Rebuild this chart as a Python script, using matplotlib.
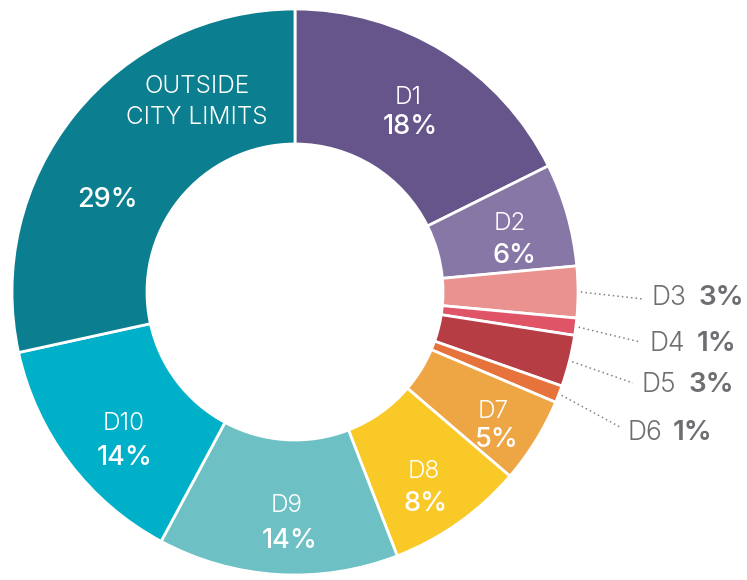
import matplotlib
matplotlib.use('Agg')
import matplotlib.pyplot as plt
import numpy as np

# data
names = ['D1', 'D2', 'D3', 'D4', 'D5', 'D6', 'D7', 'D8', 'D9', 'D10', 'OUTSIDE\nCITY LIMITS']
shares = [18, 6, 3, 1, 3, 1, 5, 8, 14, 14, 29]
pct_labels = ['18%', '6%', '3%', '1%', '3%', '1%', '5%', '8%', '14%', '14%', '29%']
colors = ['#65558a', '#8777a6', '#e99290', '#e05468', '#b73d45', '#e7733c',
          '#eea544', '#f9c928', '#6dc1c4', '#00afc8', '#0b7f8f']

# layout (pixels)
W, H = 747, 580
cx, cy, R = 295, 292, 283
hole = 148

def px(x):
    return (x - cx) / R

def py(y):
    return (cy - y) / R

# inside labels: name centre, percent centre (pixels)
inside = {
    'D1': ((408, 98), (410, 127)),
    'D2': ((510, 224), (514, 256)),
    'D7': ((493, 411), (497, 440)),
    'D8': ((424, 472), (426, 504)),
    'D9': ((287, 506), (290, 541)),
    'D10': ((124, 424), (125, 458)),
    'OUTSIDE\nCITY LIMITS': ((197, 102), (107, 200)),
}
# outside labels: name left x, pct left x, text y, leader end (x, y)
outside = {
    'D3': (652, 698, 298, (643, 299)),
    'D4': (650, 697, 344, (640, 342)),
    'D5': (641, 688, 385, (633, 383)),
    'D6': (627, 673, 433, (620, 427)),
}

plt.rcParams['font.family'] = ['Inter', 'DejaVu Sans']

fig = plt.figure(figsize=(W / 100, H / 100), dpi=100)
ax = fig.add_axes([0, 0, 1, 1])
wedges, _ = ax.pie(shares, colors=colors, startangle=90, counterclock=False, radius=1,
                   wedgeprops=dict(width=1 - hole / R, edgecolor='white', linewidth=2))
ax.set_xlim(-cx / R, (W - cx) / R)
ax.set_ylim(-(H - cy) / R, cy / R)
ax.set_aspect('auto')
ax.axis('off')

for name, pct, w in zip(names, pct_labels, wedges):
    if name in inside:
        (nx, ny), (qx, qy) = inside[name]
        ax.text(px(nx), py(ny), name, color='white', fontsize=17.5, fontweight=300,
                ha='center', va='center', linespacing=1.4)
        ax.text(px(qx), py(qy), pct, color='white', fontsize=19.5, fontweight=500,
                ha='center', va='center')
    else:
        lx, qx, ty, (ex, ey) = outside[name]
        mid = np.deg2rad((w.theta1 + w.theta2) / 2)
        sx, sy = 1.01 * np.cos(mid), 1.01 * np.sin(mid)
        ax.plot([sx, px(ex)], [sy, py(ey)], color='#808285', lw=1.1, ls=(0, (1, 2)))
        ax.text(px(lx), py(ty), name, color='#6d6e71', fontsize=19, fontweight=300,
                ha='left', va='center')
        ax.text(px(qx), py(ty), pct, color='#6d6e71', fontsize=20, fontweight=600,
                ha='left', va='center')

fig.savefig('out.png', dpi=100)
